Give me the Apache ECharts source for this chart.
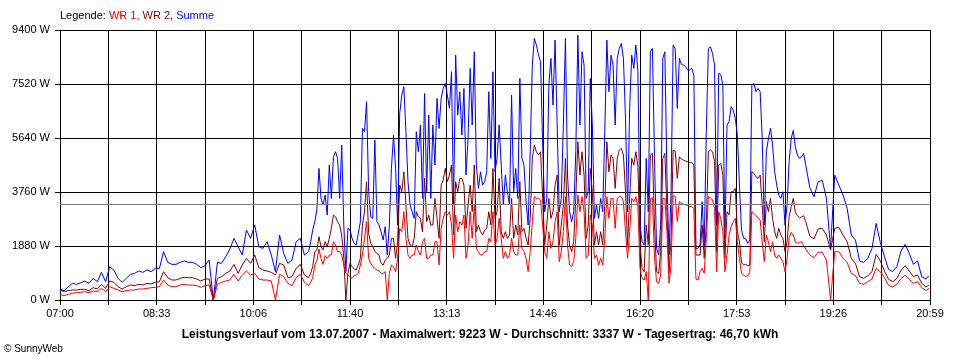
<!DOCTYPE html>
<html><head><meta charset="utf-8">
<script src="https://cdn.jsdelivr.net/npm/echarts@6/dist/echarts.min.js"></script>
<style>html,body{margin:0;padding:0;background:#fff}#c{width:960px;height:360px}</style>
</head><body><div id="c"></div>
<script>
// x tick labels (every 93.33 min from 07:00)
const tickLabels = ['07:00','08:33','10:06','11:40','13:13','14:46','16:20','17:53','19:26','20:59'];
const average = 3337;

// sampling grid, minutes after 07:00: 4-min steps morning, 2-min steps midday, 4-min steps evening
function range(a, b, s) { const r = []; for (let t = a; t <= b; t += s) r.push(t); return r; }
const minutes = [].concat(range(0, 236, 4), range(240, 720, 2), range(724, 836, 4), [839]);

// Summe (W)
const summeMorning = [
406,313,464,580,545,603,661,580,754,638,
963,638,1160,1044,754,615,754,893,928,1009,
963,1044,986,1102,1102,1682,1311,1241,1241,1311,
1357,1311,1311,1241,1125,1195,1392,0,1311,1276,
1508,1775,2146,1856,1566,2436,2146,2610,1856,1798,
2030,1566,986,2262,1624,1276,1392,2030,2146,1566];
const summeMidday = [
1682,2030,2436,2726,3132,4582,3538,3306,3654,2958,
4698,3538,4988,5162,4930,3538,5394,2610,986,2494,
2436,2146,1972,1914,2320,2726,5974,5858,6902,3770,
2900,2842,5568,2726,2610,2378,2088,2552,1566,2610,
4582,5742,4582,2610,6496,7134,7424,5858,4118,3306,
3074,2842,5858,5162,6090,3538,7192,3770,6438,3538,
6090,4698,7018,5974,7018,7366,7540,7134,6670,7946,
3306,8526,6438,7250,5742,7366,4350,5626,8062,6090,
8642,4698,3886,4466,4002,4118,4466,7250,4930,7946,
4466,4930,6090,4698,3306,4350,3770,3306,7134,3770,
4582,3538,7714,4930,4698,3422,2610,5162,8178,9106,
8874,8526,8294,5394,3074,3538,7482,8410,6786,9048,
6090,3074,3538,6090,9106,4350,3074,2726,3074,5162,
9223,6090,8642,8178,3538,3770,7714,6090,2842,3306,
2842,3538,3074,5858,9048,7250,8526,8178,6090,8410,
8758,8932,8410,6322,3074,6670,8526,8062,8874,7946,
2610,2030,1914,4930,3074,8642,8758,4930,1798,1566,
2610,8410,8642,4350,1566,3770,8874,8758,6670,8410,
8201,8178,8120,8004,8004,8062,7830,1775,1798,1914,
3422,1856,5858,8758,8816,8584,8178,2610,7888,7853,
7482,2146,6090,6206,6728,6612,6322,5742,4002,2436,
2146,2146,1972,2088,7482,7540,7250,7366,7250,5626,
2610,5162,5626,5974,5394,4466,4002,3654,3538,3770,
2610,3306,4814,5626,5904,5336,5046,4930,4988,5104,
4698];
const summeEvening = [
3909,3596,4118,4164,3538,1798,4350,4002,3654,3190,
2262,2088,1357,1311,1450,1798,2668,2007,1508,1067,
986,1160,1705,1937,1624,1241,1357,812,731,847];

// WR 2 (W)
const wr2Morning = [
348,290,325,348,348,371,371,325,429,383,
545,406,661,615,464,383,464,522,499,545,
522,580,557,615,638,986,777,696,696,754,
789,777,777,731,661,731,731,0,754,812,
928,1009,1241,928,1218,1450,1276,1566,1125,1044,
1009,963,870,1276,1218,777,812,1102,1241,870];
const wr2Midday = [
777,928,1160,1682,1740,2204,1856,1740,2030,1856,
2146,2494,2958,2900,2726,2610,2262,1450,0,928,
1276,1160,1079,1044,1218,1450,2610,3074,4118,2320,
1972,1856,1682,1624,1566,1276,1218,1392,1450,1566,
2146,2146,1450,2030,4002,3770,4466,3306,2146,1914,
1856,2146,3074,2900,2842,2378,4234,2726,2958,2610,
2610,3538,2842,2146,4002,4176,4582,4118,4350,4698,
2262,4118,3770,4234,4234,4002,2494,3306,4002,3074,
4698,2378,2610,2378,2262,2436,2494,3074,2610,4582,
2842,3074,4234,2378,2146,2378,2146,2262,3538,2146,
2610,2262,4118,2378,2494,2146,1914,2842,4930,5394,
5162,5046,5162,3538,1914,2610,3538,2842,3074,4002,
4350,1914,2610,3306,4930,2610,1914,1682,2030,3538,
5510,4350,5162,4350,2146,2610,4582,3770,1914,2378,
1914,2378,1914,3306,5510,4466,5046,4930,3886,4930,
5220,5278,5046,3770,1914,3538,4930,4698,5162,4640,
1914,1102,986,2610,1914,5046,5104,2610,986,928,
1682,4930,5104,3074,928,2146,5220,5185,4234,4988,
4907,4872,4837,4814,4791,4791,4698,1566,1566,1566,
2610,1450,2610,5162,5220,5162,4814,1682,4698,4756,
4350,1450,3074,2958,3770,3770,3886,2378,2030,1311,
1218,1241,1195,1218,4466,4408,4292,4234,4350,3306,
2030,3422,3074,3538,2842,2378,2146,2494,2262,2146,
1682,2030,2900,3248,3538,3051,2935,2865,2888,2935,
2726];
const wr2Evening = [
2227,2123,2471,2494,2262,1740,2494,2529,2262,2030,
1450,1276,812,754,847,986,1589,1357,1009,719,
638,754,1032,1195,1009,812,870,580,452,522];

// WR 1 (W)
const wr1Morning = [
197,151,197,232,255,267,290,255,313,290,
406,290,464,406,348,290,325,348,348,383,
383,406,429,441,464,696,522,464,464,522,
545,522,522,499,441,499,522,0,545,615,
661,696,893,661,870,1009,870,928,731,696,
696,661,0,893,812,580,499,777,893,615];
const wr1Midday = [
499,615,777,1218,1357,1775,1450,1241,1543,1450,
1566,1566,2030,1914,1682,1682,1566,1218,928,870,
812,754,847,870,928,1218,1566,2146,2726,1450,
1276,1160,1102,1044,1009,928,928,986,0,928,
1218,1160,986,1450,2494,2378,3074,2146,1566,1450,
1566,1566,1914,1682,1566,2030,2146,1450,1450,1566,
1566,2030,2030,1218,2494,2842,3074,2958,3074,2610,
1450,2958,2378,2726,2610,2958,1450,1914,3074,2146,
3306,1798,1682,1566,1566,1682,1682,2146,2030,3074,
1914,2146,2842,2146,1450,1682,1450,1566,2146,1682,
1566,1566,2610,1798,1682,1450,986,1682,2726,3596,
3538,3538,3480,2610,1682,1450,2378,1798,2030,2726,
3074,1334,1682,2378,3596,1914,1218,1160,1334,2146,
3654,3074,3596,3074,1450,1566,2958,2610,1450,1566,
1218,1450,1218,2146,3596,2842,3538,3538,2494,3538,
3596,3596,3422,2378,1450,2378,3538,3422,3596,3248,
1102,754,696,986,0,3538,3561,1450,638,580,
870,3538,3538,2378,580,1218,3654,3596,2726,3422,
3364,3341,3306,3283,3260,3248,3190,731,696,986,
1102,928,2146,3596,3561,3480,3190,986,3074,2842,
2378,986,1566,2262,2552,2726,2842,2030,1450,928,
870,812,847,963,3074,3016,2935,2842,2784,2030,
1334,2262,2030,1682,2030,1566,1450,1566,1450,1334,
986,1450,2169,2355,2262,2007,1972,2007,2030,1891,
1775];
const wr1Evening = [
1566,1473,1670,1659,1392,0,1682,1682,1450,1311,
928,847,580,545,638,731,1102,986,777,510,
452,545,742,870,719,580,638,429,336,406];

const summe = [].concat(summeMorning, summeMidday, summeEvening);
const wr2 = [].concat(wr2Morning, wr2Midday, wr2Evening);
const wr1 = [].concat(wr1Morning, wr1Midday, wr1Evening);
const pairs = arr => minutes.map((t, i) => [t, arr[i]]);

const FONT = 'Arial, "Liberation Sans", sans-serif';
const chart = echarts.init(document.getElementById('c'), null, {renderer: 'canvas'});
const step = 840 / 18;
chart.setOption({
  animation: false,
  backgroundColor: '#ffffff',
  title: [
    {text: '{k|Legende: }{r|WR 1, }{d|WR 2, }{b|Summe}', left: 60, top: 10, padding: 0,
     textStyle: {fontFamily: FONT, fontSize: 11, fontWeight: 'normal', rich: {
       k: {color: '#000000', fontFamily: FONT, fontSize: 11},
       r: {color: '#ff0000', fontFamily: FONT, fontSize: 11},
       d: {color: '#800000', fontFamily: FONT, fontSize: 11},
       b: {color: '#0000ff', fontFamily: FONT, fontSize: 11}}}},
    {text: 'Leistungsverlauf vom 13.07.2007 - Maximalwert: 9223 W - Durchschnitt: 3337 W - Tagesertrag: 46,70 kWh',
     left: 'center', top: 329, padding: 0,
     textStyle: {fontFamily: FONT, fontSize: 12, fontWeight: 'bold', color: '#000000'}},
    {text: '© SunnyWeb', left: 4, top: 344, padding: 0,
     textStyle: {fontFamily: FONT, fontSize: 10, fontWeight: 'normal', color: '#000000'}}
  ],
  grid: {left: 60, right: 30, top: 30, bottom: 60, containLabel: false},
  xAxis: {
    type: 'value', min: 0, max: 840, interval: step,
    axisLine: {show: true, lineStyle: {color: '#000', width: 1}},
    axisTick: {show: true, length: 5, lineStyle: {color: '#000'}},
    splitLine: {show: true, lineStyle: {color: '#000', width: 1}},
    axisLabel: {
      margin: 8, color: '#000', fontFamily: FONT, fontSize: 11, hideOverlap: false,
      formatter: function (v) {
        const k = v / (840 / 9); const r = Math.round(k);
        return (Math.abs(k - r) < 0.01 && r >= 0 && r < tickLabels.length) ? tickLabels[r] : '';
      }
    }
  },
  yAxis: {
    type: 'value', min: 0, max: 9400, interval: 1880,
    axisLine: {show: true, lineStyle: {color: '#000', width: 1}},
    axisTick: {show: true, length: 5, lineStyle: {color: '#000'}},
    splitLine: {show: true, lineStyle: {color: '#000', width: 1}},
    axisLabel: {margin: 10, color: '#000', fontFamily: FONT, fontSize: 11,
      formatter: function (v) { return String(v) + ' W'; }}
  },
  series: [
    {name: 'Summe', type: 'line', data: pairs(summe), showSymbol: false, symbol: 'none',
     lineStyle: {color: '#0000ff', width: 1}, itemStyle: {color: '#0000ff'}, z: 2,
     markLine: {silent: true, symbol: 'none', label: {show: false},
       lineStyle: {color: '#808080', type: 'solid', width: 1},
       data: [{yAxis: average}]}},
    {name: 'WR 2', type: 'line', data: pairs(wr2), showSymbol: false, symbol: 'none',
     lineStyle: {color: '#800000', width: 1}, itemStyle: {color: '#800000'}, z: 3},
    {name: 'WR 1', type: 'line', data: pairs(wr1), showSymbol: false, symbol: 'none',
     lineStyle: {color: '#ff0000', width: 1}, itemStyle: {color: '#ff0000'}, z: 4}
  ]
});
</script>
</body></html>
